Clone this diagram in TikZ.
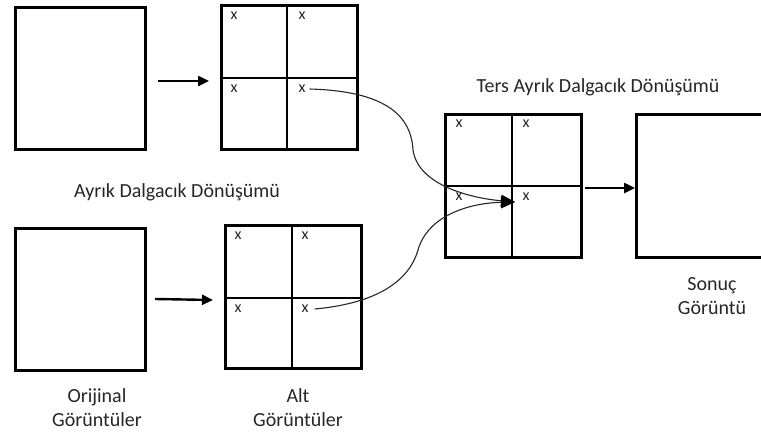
\documentclass[tikz,border=0pt]{standalone}
\usepackage{fontspec}
\setmainfont{Carlito}
\usetikzlibrary{arrows.meta}
\definecolor{ink}{HTML}{262626}
\begin{document}
\begin{tikzpicture}[x=1pt,y=-1pt,
  frame/.style={draw=black,line width=2.8pt,fill=none,inner sep=0pt,
    anchor=north west},
  divider/.style={draw=black,line width=2.8pt},
  xmark/.style={text=ink,font=\fontsize{16}{16}\selectfont,inner sep=0pt},
  label/.style={text=ink,font=\fontsize{20}{24}\selectfont,inner sep=0pt,
    align=center,anchor=base},
  flow/.style={draw=black,line width=2.4pt,
    -{Triangle[length=11pt,width=10pt]}},
  link/.style={draw=black!85,line width=1.1pt,
    -{Triangle[length=14pt,width=12pt,color=black]}}]
\useasboundingbox (0,0) rectangle (761,434);

% plain image frames
\node[frame,minimum width=130pt,minimum height=142pt] (origA) at (14,6) {};
\node[frame,minimum width=130pt,minimum height=142pt] (origB) at (14,227) {};
\node[frame,minimum width=160pt,minimum height=143pt] (result) at (635,113) {};

% sub-band grids
\node[frame,minimum width=136pt,minimum height=144pt] (subA) at (220,4) {};
\draw[divider] (287,4) -- (287,148) (220,78) -- (356,78);
\node[frame,minimum width=136pt,minimum height=143pt] (subB) at (224,224) {};
\draw[divider] (292,224) -- (292,367) (224,298) -- (360,298);
\node[frame,minimum width=136pt,minimum height=143pt] (inv) at (444,113) {};
\draw[divider] (512,113) -- (512,256) (444,186) -- (580,186);

% coefficient marks
\foreach \n/\px/\py in {a1/234/16, a2/302/16, a3/234/89, a4/302/89,
    b1/238/236, b2/305/236, b3/238/309, b4/305/309,
    c1/459/124, c2/526/124, c3/459/197, c4/526/197}
  \node[xmark] (x\n) at (\px,\py) {x};

% labels (base anchor sits on the last line)
\node[label] (dwt) at (177,197) {Ayrık Dalgacık Dönüşümü};
\node[label] (idwt) at (598,92) {Ters Ayrık Dalgacık Dönüşümü};
\node[label] (lorig) at (97,426) {Orijinal\\Görüntüler};
\node[label] (lsub) at (298,426) {Alt\\Görüntüler};
\node[label] (lres) at (712,314) {Sonuç\\Görüntü};

% straight transform arrows
\coordinate (t1) at (158,81);
\coordinate (t2) at (209,81);
\coordinate (u1) at (155,299);
\coordinate (u2) at (213,300);
\coordinate (v1) at (585,188);
\draw[flow] (t1) -- (t2);
\draw[flow] (u1) -- (u2);
\draw[flow] (v1) -- (v1 -| result.west);

% detail bands carried into the inverse transform
\coordinate (tip) at (515,202);
\draw[link] ([xshift=4pt]xa4.east) .. controls (380,91) and (411,112) .. (413,150)
  .. controls (418,185) and (470,198) .. (tip);
\draw[link] ([xshift=6pt]xb4.east) .. controls (370,304) and (408,285) .. (418,250)
  .. controls (428,215) and (470,203) .. (tip);
\end{tikzpicture}
\end{document}
